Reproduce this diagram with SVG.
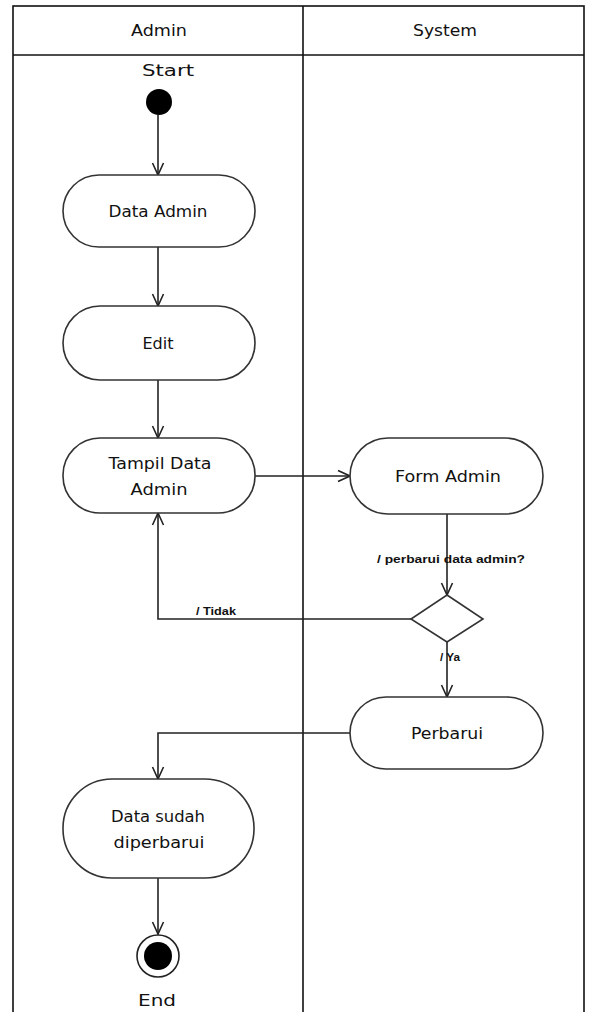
<svg xmlns="http://www.w3.org/2000/svg" width="590" height="1012" viewBox="0 0 590 1012">
<style>
.lane{fill:none;stroke:#111;stroke-width:1.6}
.node{fill:#fff;stroke:#333;stroke-width:1.6}
.t{font-family:"DejaVu Sans","Liberation Sans",sans-serif;font-size:16px;fill:#111;text-anchor:middle;dominant-baseline:central}
.h{font-family:"DejaVu Sans","Liberation Sans",sans-serif;font-size:15px;fill:#111;text-anchor:middle;dominant-baseline:central}
.s{font-family:"Liberation Sans",sans-serif;font-size:10px;font-weight:bold;fill:#111;text-anchor:middle;dominant-baseline:central}
.c{fill:none;stroke:#222;stroke-width:1.6}
</style>
<defs>
<marker id="a" markerWidth="14" markerHeight="14" refX="13" refY="7" orient="auto" markerUnits="userSpaceOnUse">
<path d="M1,1.5 L13,7 L1,12.5" fill="none" stroke="#222" stroke-width="1.6"/>
</marker>
</defs>
<rect width="590" height="1012" fill="#fff"/>
<g id="lanes">
<rect class="lane" x="13" y="6" width="571" height="1010"/>
<line class="lane" x1="13" y1="55" x2="584" y2="55"/>
<line class="lane" x1="303" y1="6" x2="303" y2="1012"/>
<text class="h" x="159" y="31" textLength="56" lengthAdjust="spacingAndGlyphs">Admin</text>
<text class="h" x="445" y="31" textLength="64" lengthAdjust="spacingAndGlyphs">System</text>
</g>
<g id="connectors">
<path class="c" d="M158,115 L158,175" marker-end="url(#a)"/>
<path class="c" d="M158,247 L158,306" marker-end="url(#a)"/>
<path class="c" d="M158,380 L158,438" marker-end="url(#a)"/>
<path class="c" d="M255,476 L350,476" marker-end="url(#a)"/>
<path class="c" d="M447,514 L447,595" marker-end="url(#a)"/>
<path class="c" d="M411,619 L158,619 L158,513" marker-end="url(#a)"/>
<path class="c" d="M447,642 L447,697" marker-end="url(#a)"/>
<path class="c" d="M350,733 L158,733 L158,779" marker-end="url(#a)"/>
<path class="c" d="M158,878 L158,934" marker-end="url(#a)"/>
<text class="s" x="451" y="559" textLength="148" lengthAdjust="spacingAndGlyphs">/ perbarui data admin?</text>
<text class="s" x="216" y="611" textLength="40" lengthAdjust="spacingAndGlyphs">/ Tidak</text>
<text class="s" x="450" y="657" textLength="20" lengthAdjust="spacingAndGlyphs">/ Ya</text>
</g>
<g id="start">
<text class="t" x="168" y="70" textLength="52" lengthAdjust="spacingAndGlyphs">Start</text>
<circle cx="159" cy="102" r="13" fill="#000"/>
</g>
<g id="data-admin">
<rect class="node" x="63" y="175" width="192" height="72" rx="36"/>
<text class="t" x="158" y="211" textLength="99" lengthAdjust="spacingAndGlyphs">Data Admin</text>
</g>
<g id="edit">
<rect class="node" x="63" y="306" width="192" height="74" rx="37"/>
<text class="t" x="158" y="343" textLength="31" lengthAdjust="spacingAndGlyphs">Edit</text>
</g>
<g id="tampil-data-admin">
<rect class="node" x="63" y="438" width="192" height="75" rx="37"/>
<text class="t" x="160" y="463" textLength="103" lengthAdjust="spacingAndGlyphs">Tampil Data</text>
<text class="t" x="159" y="489" textLength="57" lengthAdjust="spacingAndGlyphs">Admin</text>
</g>
<g id="form-admin">
<rect class="node" x="350" y="438" width="193" height="76" rx="38"/>
<text class="t" x="448" y="476" textLength="106" lengthAdjust="spacingAndGlyphs">Form Admin</text>
</g>
<g id="decision">
<polygon class="node" points="447,595 483,619 447,642 411,619"/>
</g>
<g id="perbarui">
<rect class="node" x="350" y="697" width="193" height="72" rx="36"/>
<text class="t" x="447" y="733" textLength="72" lengthAdjust="spacingAndGlyphs">Perbarui</text>
</g>
<g id="data-sudah-diperbarui">
<rect class="node" x="63" y="779" width="191" height="99" rx="49"/>
<text class="t" x="158" y="816" textLength="94" lengthAdjust="spacingAndGlyphs">Data sudah</text>
<text class="t" x="159" y="842" textLength="91" lengthAdjust="spacingAndGlyphs">diperbarui</text>
</g>
<g id="end">
<circle cx="158" cy="956" r="21" fill="#fff" stroke="#222" stroke-width="1.6"/>
<circle cx="158" cy="956" r="14" fill="#000"/>
<text class="t" x="157" y="1000" textLength="38" lengthAdjust="spacingAndGlyphs">End</text>
</g>
</svg>
